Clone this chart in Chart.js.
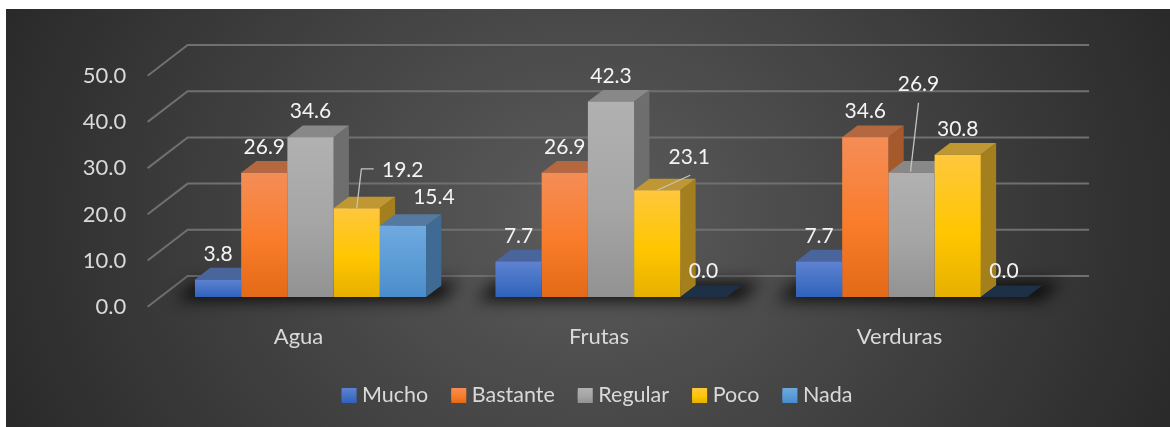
<!DOCTYPE html>
<html><head><meta charset="utf-8">
<script src="https://cdn.jsdelivr.net/npm/chart.js@4"></script>
<style>
html,body{margin:0;padding:0;background:#fff;overflow:hidden}
#card{position:absolute;left:6px;top:9px;width:1164px;height:418px;
background:radial-gradient(ellipse 54% 125% at 50% 50%,#5c5c5c 0%,#2a2a2a 100%)}
#wrap{position:absolute;left:0;top:0;width:1146px;height:418px}
</style></head><body>
<div id="card"><div id="wrap"><canvas id="c"></canvas></div></div>
<script>
const categories=['Agua','Frutas','Verduras'];
const tickValues=[0,10,20,30,40,50];
const mucho=[3.8,7.7,7.7];
const bastante=[26.9,26.9,34.6];
const regular=[34.6,42.3,26.9];
const poco=[19.2,23.1,30.8];
const nada=[15.4,0,0];
const seriesNames=['Mucho','Bastante','Regular','Poco','Nada'];
const seriesValues=[mucho,bastante,regular,poco,nada];

const palette=[
 {t:'#5f82d2',m:'#4472c4',b:'#2f62bd',top:'#4a659c',side:'#375a94',zero:'#1e2c44'},
 {t:'#f58d57',m:'#f97c2a',b:'#e36a18',top:'#b5683f',side:'#a65a2c',zero:'#4a2c18'},
 {t:'#b1b1b1',m:'#a5a5a5',b:'#929292',top:'#888888',side:'#6e6e6e',zero:'#333333'},
 {t:'#ffc73d',m:'#ffc600',b:'#e6b000',top:'#bf9733',side:'#a37f1e',zero:'#4a3c10'},
 {t:'#6fa9e0',m:'#5b9bd5',b:'#4a8ccb',top:'#55799f',side:'#3f6a93',zero:'#1e3045'}
];
const DEPTH_X=15.3, DEPTH_Y=11.6;
const labelNudge={'0:0':[0,-25],'3:0':[46,-38.5],'4:0':[31,-29],'3:1':[32,-33],'2:2':[7,-88]};
const leaders={'3:0':[[0,0],[4.7,-39.5],[17,-39.5]],'3:1':[[0,0],[33,-15]],'2:2':[[-1,-1],[7,-70]]};

function grad(ctx,y0,y1,p){
  const g=ctx.createLinearGradient(0,y0,0,y1);
  g.addColorStop(0,p.t);g.addColorStop(0.55,p.m);g.addColorStop(1,p.b);return g;
}
const cube={
 id:'cube',
 afterLayout(chart){
  const lg=chart.legend;
  const delta=591-(lg.left+lg.right)/2;
  lg.left+=delta;lg.right+=delta;
  lg.legendHitBoxes.forEach(h=>{h.left+=delta;});
 },
 beforeDatasetsDraw(chart){
  const ctx=chart.ctx, y=chart.scales.y, area=chart.chartArea;
  ctx.save();
  ctx.strokeStyle='#707070';ctx.lineWidth=2;ctx.lineJoin='miter';
  y.ticks.forEach(t=>{
    const py=y.getPixelForValue(t.value);
    ctx.beginPath();
    ctx.moveTo(area.left-12.6,py+9.7);
    ctx.lineTo(area.left+27.4,py-21);
    ctx.lineTo(area.right+27.3,py-21);
    ctx.stroke();
  });
  const n=chart.data.labels.length;
  for(let c=0;c<n;c++){
    const first=chart.getDatasetMeta(0).data[c], last=chart.getDatasetMeta(4).data[c];
    const l=first.x-first.width/2, r=last.x+last.width/2, b=y.getPixelForValue(0);
    ctx.save();
    ctx.filter='blur(8px)';ctx.fillStyle='rgba(0,0,0,0.85)';
    ctx.beginPath();ctx.moveTo(l-20,b+3);ctx.lineTo(r+14,b+3);ctx.lineTo(r+34,b-15);ctx.lineTo(l+2,b-15);ctx.closePath();ctx.fill();
    ctx.restore();
  }
  for(let c=0;c<n;c++){
    chart.data.datasets.forEach((ds,i)=>{
      const bar=chart.getDatasetMeta(i).data[c], p=palette[i];
      const l=bar.x-bar.width/2, r=bar.x+bar.width/2, tp=bar.y, b=bar.base;
      const zero=ds.data[c]===0;
      ctx.fillStyle=p.side;
      ctx.beginPath();ctx.moveTo(r,tp);ctx.lineTo(r+DEPTH_X,tp-DEPTH_Y);ctx.lineTo(r+DEPTH_X,b-DEPTH_Y);ctx.lineTo(r,b);ctx.closePath();ctx.fill();
      ctx.fillStyle=zero?p.zero:p.top;
      ctx.beginPath();ctx.moveTo(l,tp);ctx.lineTo(r,tp);ctx.lineTo(r+DEPTH_X,tp-DEPTH_Y);ctx.lineTo(l+DEPTH_X,tp-DEPTH_Y);ctx.closePath();ctx.fill();
    });
  }
  ctx.restore();
 },
 afterDatasetsDraw(chart){
  const ctx=chart.ctx;
  ctx.save();
  ctx.font='21px Lato';ctx.fillStyle='#f4f4f4';ctx.textAlign='center';ctx.textBaseline='middle';
  chart.data.datasets.forEach((ds,i)=>{
    chart.getDatasetMeta(i).data.forEach((bar,c)=>{
      const key=i+':'+c, nudge=labelNudge[key]||[0,-25.5];
      if(leaders[key]){
        ctx.strokeStyle='#c4c4c4';ctx.lineWidth=1.3;ctx.beginPath();
        leaders[key].forEach((o,k)=>{const f=k?'lineTo':'moveTo';ctx[f](bar.x+o[0],bar.y+o[1]);});
        ctx.stroke();
      }
      ctx.fillText(ds.data[c].toFixed(1),bar.x+nudge[0],bar.y+nudge[1]);
    });
  });
  ctx.restore();
 },
 afterDraw(chart){
  const ctx=chart.ctx, lg=chart.legend;
  ctx.save();
  lg.legendHitBoxes.forEach((h,i)=>{
    const cy=h.top+h.height/2, t=cy-7.5;
    ctx.fillStyle=grad(ctx,t,t+15,palette[i]);
    ctx.fillRect(h.left,t,15,15);
  });
  ctx.restore();
 }
};
new Chart(document.getElementById('c'),{
 type:'bar',
 data:{labels:categories,datasets:seriesNames.map((name,i)=>({
   label:name,data:seriesValues[i],
   borderWidth:0,
   backgroundColor(ctx){
     const chart=ctx.chart, y=chart.scales.y;
     if(ctx.type!=='data'||!y)return palette[i].m;
     const y0=y.getPixelForValue(ctx.raw), y1=y.getPixelForValue(0);
     if(!Number.isFinite(y0)||!Number.isFinite(y1))return palette[i].m;
     return grad(chart.ctx,y0,y1,palette[i]);
   }
 }))},
 options:{
  responsive:true,maintainAspectRatio:false,animation:false,
  layout:{padding:{top:57,right:90.25,bottom:10.75,left:0}},
  datasets:{bar:{barPercentage:1,categoryPercentage:0.769}},
  plugins:{
   title:{display:false},tooltip:{enabled:false},
   legend:{position:'bottom',labels:{color:'#d9d9d9',font:{family:'Lato',size:21.5},boxWidth:9.75,boxHeight:9,padding:23}}
  },
  scales:{
   x:{grid:{display:false,drawTicks:false},border:{display:false},
      ticks:{color:'#d9d9d9',font:{family:'Lato',size:22},padding:27,labelOffset:-12,maxRotation:0},
      afterFit(s){s.height=64.75;}},
   y:{min:0,max:50,afterBuildTicks(s){s.ticks=tickValues.map(v=>({value:v}));},
      grid:{display:false,drawTicks:false},border:{display:false},
      ticks:{color:'#d9d9d9',font:{family:'Lato',size:22},padding:34,labelOffset:10,callback:v=>v.toFixed(1)},
      afterFit(s){s.width=154.25;}}
  }
 },
 plugins:[cube]
});
</script></body></html>
